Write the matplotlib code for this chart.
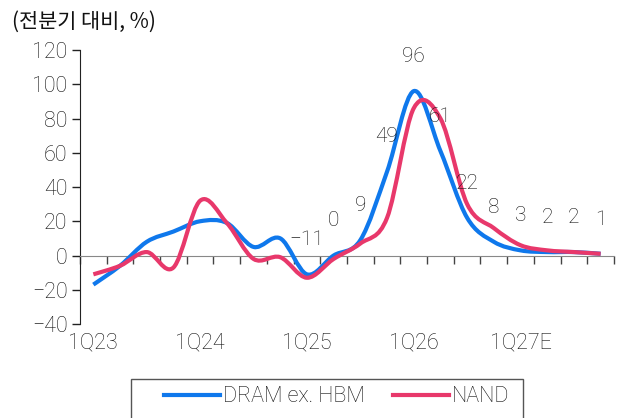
import numpy as np
import matplotlib
matplotlib.use("Agg")
import matplotlib.pyplot as plt
from matplotlib.path import Path
from matplotlib.patches import PathPatch, Rectangle
from matplotlib.lines import Line2D

plt.rcParams['font.family'] = ['Roboto', 'Noto Sans CJK KR', 'DejaVu Sans']
plt.rcParams['font.weight'] = 'light'

quarters = ['1Q23', '2Q23', '3Q23', '4Q23', '1Q24', '2Q24', '3Q24', '4Q24',
            '1Q25', '2Q25', '3Q25', '4Q25', '1Q26', '2Q26', '3Q26', '4Q26',
            '1Q27E', '2Q27E', '3Q27E', '4Q27E']
dram = [-17, -6, 8, 14, 20, 19, 5, 10, -11, 0, 9, 49, 96, 61, 22, 8, 3, 2, 2, 1]
nand = [-11, -6, 2, -7, 32, 19, -2, -1, -13, -2, 7, 22, 86, 80, 30, 16, 6, 3, 2, 1]
label_from = 8  # data labels shown for DRAM from 1Q25

BLUE = '#0F78EC'
RED = '#E8386B'
TXT = '#111111'


def smooth_path(y):
    # Excel-style smoothed line: cubic Bezier segments through each point
    x = np.arange(len(y), dtype=float)
    y = np.asarray(y, dtype=float)
    pts = np.column_stack([x, y])
    ext = np.vstack([pts[0], pts, pts[-1]])
    verts = [pts[0]]
    codes = [Path.MOVETO]
    for i in range(len(pts) - 1):
        p0, p1, p2, p3 = ext[i], ext[i + 1], ext[i + 2], ext[i + 3]
        verts += [p1 + (p2 - p0) / 6, p2 - (p3 - p1) / 6, p2]
        codes += [Path.CURVE4] * 3
    return Path(verts, codes)


fig = plt.figure(figsize=(6.22, 4.18), dpi=100)
ax = fig.add_axes([80 / 622, 1 - 324 / 418, 534 / 622, 274 / 418])

for vals, col in [(dram, BLUE), (nand, RED)]:
    ax.add_patch(PathPatch(smooth_path(vals), facecolor='none', edgecolor=col,
                           lw=3.0, capstyle='butt', joinstyle='round', zorder=3))

for i in range(label_from, len(dram)):
    ax.annotate(f'{dram[i]:g}'.replace('-', '\u2212'), (i, dram[i]),
                xytext=(0, 25), textcoords='offset points', ha='center', va='center',
                fontsize=15, color=TXT, zorder=5)

ax.set_xlim(-0.5, len(quarters) - 0.5)
ax.set_ylim(-40, 120)
ax.set_yticks(range(-40, 121, 20))
ax.set_yticklabels([str(v).replace('-', '\u2212') for v in range(-40, 121, 20)])
ax.tick_params(axis='y', direction='out', length=6, width=1, color='#222222',
               labelcolor=TXT, labelsize=15.5, pad=3)
ax.spines['left'].set_color('#222222')
ax.spines['top'].set_visible(False)
ax.spines['right'].set_visible(False)

# axis line at zero with category boundary ticks
ax.spines['bottom'].set_position(('data', 0))
ax.spines['bottom'].set_color('#888888')
ax.set_xticks(np.arange(-0.5, len(quarters), 1.0))
ax.tick_params(axis='x', direction='out', length=6, width=1, color='#444444',
               labelbottom=False)

# category labels at the bottom
sec = ax.secondary_xaxis(0)
sec.spines['bottom'].set_visible(False)
sec.set_xticks(range(0, len(quarters), 4))
sec.set_xticklabels(quarters[::4])
sec.tick_params(length=0, labelsize=15.5, labelcolor=TXT, pad=6)

fig.text(12 / 622, 1 - 22 / 418, '(전분기 대비, %)', fontsize=15, color=TXT,
         va='center', ha='left', family=['Noto Sans CJK KR', 'DejaVu Sans'])

# legend box (runs off the bottom edge)
fig.patches.append(Rectangle((131 / 622, -0.05), 392 / 622, 0.05 + 39 / 418,
                             transform=fig.transFigure, facecolor='white',
                             edgecolor='#555555', lw=1))
handles = [Line2D([], [], color=BLUE, lw=3), Line2D([], [], color=RED, lw=3)]
leg = fig.legend(handles, ['DRAM ex. HBM', 'NAND'], ncol=2, loc='center left',
                 bbox_to_anchor=(155 / 622, 1 - 397 / 418), fontsize=15.5,
                 frameon=False, handlelength=2.6, handletextpad=0.15,
                 columnspacing=1.3, borderaxespad=0)
for t in leg.get_texts():
    t.set_color(TXT)

fig.savefig('out.png', dpi=100)
